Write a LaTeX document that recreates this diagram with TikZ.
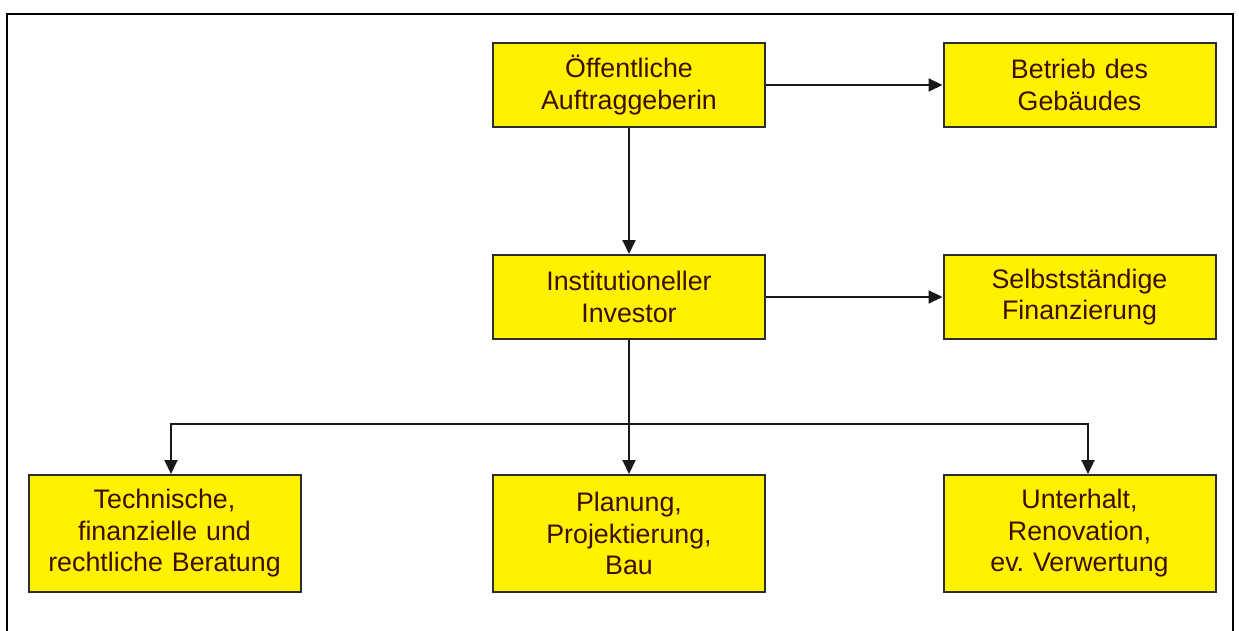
\documentclass[tikz,border=0pt]{standalone}
\usepackage{fontspec}
\setmainfont{Liberation Sans}
\frenchspacing
\usetikzlibrary{arrows.meta,positioning}
\definecolor{boxtext}{RGB}{60,15,0}
\definecolor{boxline}{RGB}{45,45,45}
\tikzstyle{blockstyle}=[draw=boxline, line width=2pt, fill=yellow, text=boxtext, text centered,
  inner sep=0pt, font=\fontsize{26.8}{31.5}\selectfont]
\tikzstyle{textbox} = [blockstyle, text width=262pt, minimum width=272pt, minimum height=84pt]
\tikzstyle{tallbox} = [textbox, minimum height=117pt]
\tikzstyle{line} = [draw, line width=2pt, color=black!90, -{Triangle[length=14pt,width=13pt]}]
\newcommand{\orgbox}[2]{node (p#1) [textbox] {#2}}
\newcommand{\tallorgbox}[2]{node (p#1) [tallbox] {#2}}

\begin{document}
\begin{tikzpicture}[x=1pt, y=-1pt]
\useasboundingbox (0,0) rectangle (1239,631);
% Frame round the diagram
\draw[line width=2.5pt] (7,631) -- (7,14) -- (1233,14) -- (1233,631);

% Draw diagram elements
\path (629,85)                   \orgbox{1}{Öffentliche\\Auftraggeberin};
\path (p1.center) + (450.5, 0)   \orgbox{2}{Betrieb des\\Gebäudes};
\path (p1.center) + (0, 212)     \orgbox{3}{Institutioneller\\Investor};
\path (p3.center) + (450.5, 0)   \orgbox{4}{Selbstständige\\Finanzierung};
\path (p3.center) + (0, 236.5)   \tallorgbox{6}{Planung,\\Projektierung,\\Bau};
\path (p6.center) + (-464.5, 0)  \tallorgbox{5}{Technische,\\finanzielle und\\rechtliche Beratung};
\path (p6.center) + (450.5, 0)   \tallorgbox{7}{Unterhalt,\\Renovation,\\ev. Verwertung};

\coordinate (fork) at (629,424);

% Draw arrows between elements
\path [line] (p1) -- (p2);
\path [line] (p1) -- (p3);
\path [line] (p3) -- (p4);
\draw [line width=2pt, color=black!90] (p3.south) -- (fork);
\path [line] (fork) -- (p6);
\path [line] (fork) -| ([xshift=6.5pt]p5.north);
\path [line] (fork) -| ([xshift=8.5pt]p7.north);

\end{tikzpicture}
\end{document}
